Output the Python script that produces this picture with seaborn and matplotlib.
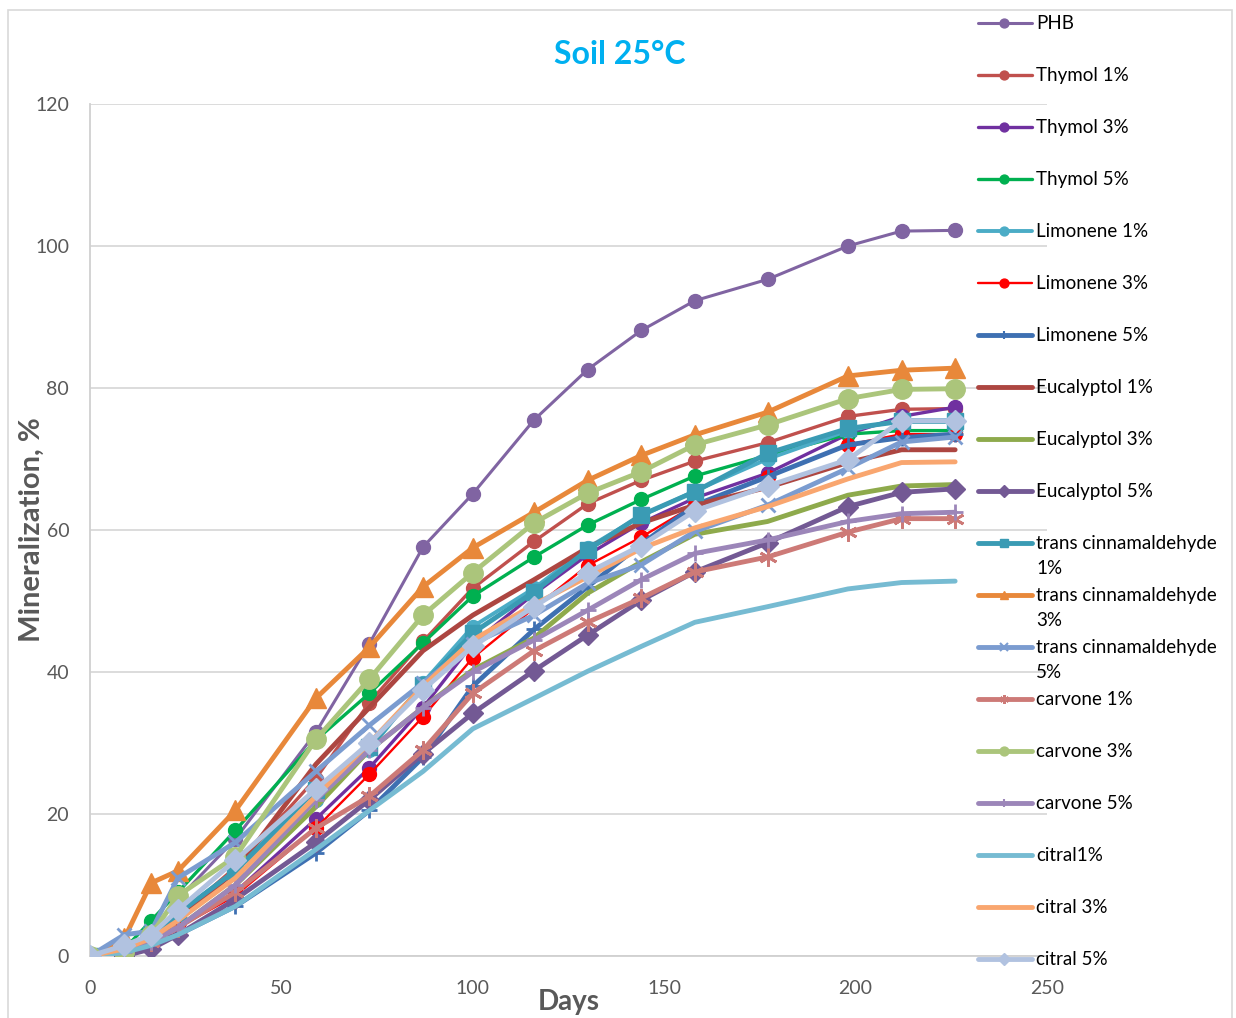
import matplotlib
matplotlib.use("Agg")
import matplotlib.pyplot as plt
import seaborn as sns
import pandas as pd
from matplotlib.lines import Line2D
from matplotlib.patches import Rectangle

days = [0, 9, 16, 23, 38, 59, 73, 87, 100, 116, 130, 144, 158, 177, 198, 212, 226]

series_names = ["PHB", "Thymol 1%", "Thymol 3%", "Thymol 5%", "Limonene 1%", "Limonene 3%",
                "Limonene 5%", "Eucalyptol 1%", "Eucalyptol 3%", "Eucalyptol 5%",
                "trans cinnamaldehyde 1%", "trans cinnamaldehyde 3%", "trans cinnamaldehyde 5%",
                "carvone 1%", "carvone 3%", "carvone 5%", "citral1%", "citral 3%", "citral 5%"]

phb = [0, 1.0, 3.5, 8.0, 16.5, 31.5, 44.0, 57.6, 65.1, 75.5, 82.6, 88.1, 92.3, 95.3, 100.0, 102.1, 102.2]
thymol_1 = [0, 1.0, 3.0, 5.5, 12.5, 25.0, 35.7, 44.3, 51.8, 58.4, 63.7, 67.0, 69.7, 72.3, 76.0, 77.0, 77.1]
thymol_3 = [0, 0.5, 2.0, 4.0, 9.0, 19.3, 26.5, 35.0, 44.0, 51.0, 56.5, 61.0, 64.5, 68.0, 73.5, 76.0, 77.3]
thymol_5 = [0, 1.0, 5.0, 9.0, 17.7, 30.4, 37.0, 44.1, 50.7, 56.2, 60.7, 64.3, 67.6, 70.5, 73.5, 74.0, 74.0]
limonene_1 = [0, 1.0, 3.0, 6.0, 12.0, 22.0, 29.0, 38.5, 46.4, 51.8, 57.5, 62.0, 65.5, 70.0, 74.0, 75.5, 75.5]
limonene_3 = [0, 0.5, 2.0, 4.0, 8.5, 18.0, 25.6, 33.7, 42.0, 49.0, 55.0, 59.0, 63.5, 67.5, 72.0, 73.5, 73.5]
limonene_5 = [0, 0.5, 1.5, 3.0, 7.0, 14.5, 20.5, 28.0, 38.0, 46.0, 52.0, 58.0, 63.5, 67.5, 72.0, 73.0, 73.5]
eucalyptol_1 = [0, 0.5, 2.0, 5.0, 12.0, 27.0, 35.0, 43.0, 48.0, 53.0, 57.5, 61.0, 63.5, 66.0, 69.5, 71.3, 71.3]
eucalyptol_3 = [0, 0.5, 2.0, 4.0, 10.0, 21.0, 29.0, 35.0, 40.3, 44.8, 51.1, 55.5, 59.4, 61.2, 64.9, 66.2, 66.4]
eucalyptol_5 = [0, 0.0, 1.0, 3.0, 8.0, 16.0, 22.0, 28.5, 34.2, 40.2, 45.2, 50.1, 54.1, 58.2, 63.3, 65.3, 65.8]
cinnam_1 = [0, 1.0, 3.0, 6.0, 12.0, 23.4, 29.5, 38.2, 45.5, 51.3, 57.2, 62.1, 65.4, 70.8, 74.3, 75.3, 75.3]
cinnam_3 = [0, 2.5, 10.3, 12.0, 20.5, 36.3, 43.5, 52.0, 57.5, 62.5, 67.0, 70.5, 73.4, 76.6, 81.7, 82.5, 82.8]
cinnam_5 = [0, 3.0, 3.5, 11.0, 16.0, 26.0, 32.5, 38.5, 44.0, 48.0, 52.5, 55.1, 59.8, 63.5, 68.7, 72.4, 73.1]
carvone_1 = [0, 0.5, 2.0, 4.0, 9.0, 18.0, 22.5, 29.0, 37.0, 43.0, 47.0, 50.4, 54.1, 56.2, 59.7, 61.6, 61.6]
carvone_3 = [0, 0.5, 3.0, 8.5, 14.0, 30.5, 39.0, 48.0, 54.0, 61.0, 65.2, 68.2, 72.0, 74.8, 78.5, 79.8, 79.9]
carvone_5 = [0, 0.5, 2.0, 4.0, 10.0, 22.0, 29.0, 35.0, 40.0, 44.5, 48.7, 53.0, 56.7, 58.6, 61.2, 62.3, 62.5]
citral_1 = [0, 0.5, 1.5, 3.0, 7.0, 15.0, 20.5, 26.0, 32.0, 36.3, 40.1, 43.6, 47.0, 49.2, 51.7, 52.6, 52.8]
citral_3 = [0, 1.0, 2.5, 5.0, 11.0, 22.5, 30.0, 38.0, 44.5, 49.5, 53.4, 57.4, 60.3, 63.3, 67.2, 69.5, 69.6]
citral_5 = [0, 1.5, 3.0, 6.5, 13.5, 23.5, 30.0, 37.5, 43.6, 49.2, 54.0, 57.8, 62.7, 66.2, 69.9, 75.4, 75.4]

x_ticks = [0, 50, 100, 150, 200, 250]
y_ticks = [0, 20, 40, 60, 80, 100, 120]

all_values = [phb, thymol_1, thymol_3, thymol_5, limonene_1, limonene_3, limonene_5,
              eucalyptol_1, eucalyptol_3, eucalyptol_5, cinnam_1, cinnam_3, cinnam_5,
              carvone_1, carvone_3, carvone_5, citral_1, citral_3, citral_5]

# styles: color, marker, markersize (pt), linewidth (pt)
asterisk = (6, 2, 0)
styles = [
    ("#8064A2", "o", 10, 2.2),
    ("#C0504D", "o", 10, 2.4),
    ("#7030A0", "o", 10, 2.4),
    ("#00B050", "o", 10, 2.4),
    ("#4BACC6", "o", 10, 2.8),
    ("#FF0000", "o", 10, 1.7),
    ("#3E70B2", "+", 11, 3.5),
    ("#AD4641", None, 0, 3.5),
    ("#8EAA4C", None, 0, 3.5),
    ("#735994", "D", 10, 3.5),
    ("#3A9BB4", "s", 12, 3.5),
    ("#E8883A", "^", 14, 3.5),
    ("#7B9CD0", "x", 10, 3.5),
    ("#CD7A77", asterisk, 13, 3.5),
    ("#ABC57B", "o", 14, 3.5),
    ("#9C86B9", "+", 12, 3.5),
    ("#76BBD2", None, 0, 3.5),
    ("#F9A66F", None, 0, 3.5),
    ("#B1C2E0", "D", 11, 3.5),
]

sns.set_theme(style="white")
plt.rcParams['font.family'] = ['Lato', 'DejaVu Sans']

W, H = 1236, 1018
fig = plt.figure(figsize=(W / 100, H / 100), dpi=100)
fig.patch.set_facecolor("white")

ax_l, ax_r, ax_t, ax_b = 90, 1047, 104, 956
ax = fig.add_axes([ax_l / W, 1 - ax_b / H, (ax_r - ax_l) / W, (ax_b - ax_t) / H])
ax.set_facecolor("white")

for name, vals, (col, mk, ms, lw) in zip(series_names, all_values, styles):
    df = pd.DataFrame({"Days": days, "val": vals})
    kw = dict(color=col, linewidth=lw, ax=ax, legend=False, zorder=3)
    if mk is not None:
        kw.update(marker=mk, markersize=ms, markeredgecolor=col, markerfacecolor=col,
                  markeredgewidth=2.0 if mk in ("+", "x", asterisk) else 1.0)
    sns.lineplot(data=df, x="Days", y="val", **kw)

ax.set_xlim(0, 250)
ax.set_ylim(0, 120)
ax.set_xticks(x_ticks)
ax.set_yticks(y_ticks)
ax.set_xticklabels([str(t) for t in x_ticks])
ax.set_yticklabels([str(t) for t in y_ticks])
ax.tick_params(axis="both", length=0, labelsize=14, colors="#595959")
ax.tick_params(axis="x", pad=17)
ax.tick_params(axis="y", pad=15)
ax.yaxis.grid(True, color="#D9D9D9", linewidth=1.3, zorder=0)
ax.xaxis.grid(False)
for s in ["top", "right"]:
    ax.spines[s].set_visible(False)
for s in ["left", "bottom"]:
    ax.spines[s].set_color("#D0D0D0")
    ax.spines[s].set_linewidth(1.3)
ax.set_xlabel("")
ax.set_ylabel("")

fig.text(569 / W, 1 - 1002 / H, "Days", ha="center", va="center",
         fontsize=20, fontweight="bold", color="#595959")
fig.text(32 / W, 1 - 530 / H, "Mineralization, %", ha="center", va="center", rotation=90,
         fontsize=21, fontweight="bold", color="#595959")
fig.text(620 / W, 1 - 55 / H, "Soil 25°C", ha="center", va="center",
         fontsize=23, fontweight="bold", color="#00B0F0")

label_lines = {"trans cinnamaldehyde 1%": "trans cinnamaldehyde\n1%",
               "trans cinnamaldehyde 3%": "trans cinnamaldehyde\n3%",
               "trans cinnamaldehyde 5%": "trans cinnamaldehyde\n5%"}
y0, step = 23, 52
for i, (name, (col, mk, ms, lw)) in enumerate(zip(series_names, styles)):
    yc = y0 + i * step
    yf = 1 - yc / H
    ln = Line2D([978 / W, 1032 / W], [yf, yf], transform=fig.transFigure, color=col,
                linewidth=lw, solid_capstyle="round")
    fig.add_artist(ln)
    if mk is not None:
        mk_ln = Line2D([1004 / W], [yf], transform=fig.transFigure, color=col, marker=mk,
                       markersize=min(ms, 8) * 0.8, markeredgecolor=col, markerfacecolor=col,
                       markeredgewidth=1.5 if mk in ("+", "x", asterisk) else 1.0, linestyle="none")
        fig.add_artist(mk_ln)
    txt = label_lines.get(name, name)
    fig.text(1036 / W, 1 - (yc - 8) / H, txt, ha="left", va="top", fontsize=13.5,
             color="#000000", linespacing=1.6)

fig.add_artist(Rectangle((8 / W, -0.02), (1232 - 8) / W, 1 - 10 / H + 0.02,
                         transform=fig.transFigure, fill=False, edgecolor="#D9D9D9", linewidth=1.2))

fig.savefig("out.png", dpi=100, facecolor="white")
